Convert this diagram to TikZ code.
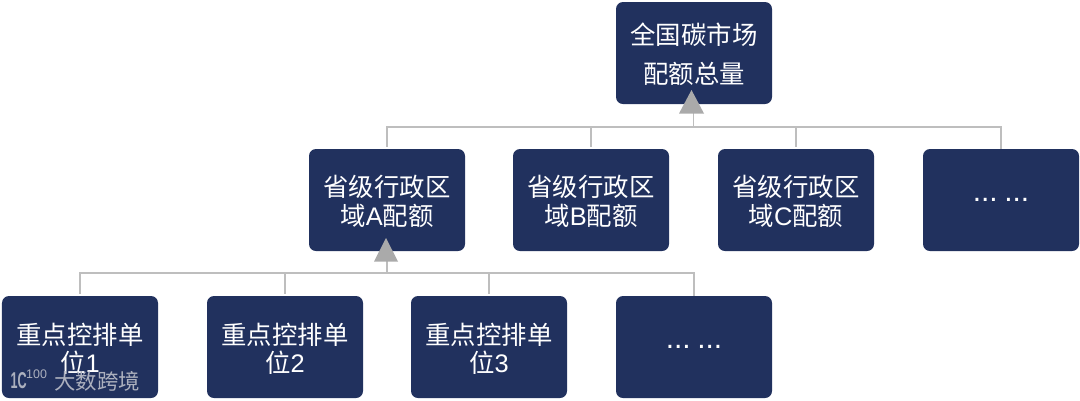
\documentclass[tikz,border=0pt]{standalone}
\usepackage{fontspec}
\usepackage{graphicx}
\setmainfont{Noto Sans CJK SC}
\newfontfamily\markfont{Liberation Sans}
\usetikzlibrary{positioning,calc}
\definecolor{boxblue}{RGB}{33,49,94}
\definecolor{linegray}{RGB}{190,190,190}
\definecolor{arrowgray}{RGB}{170,170,170}
\definecolor{markgray}{RGB}{172,176,190}
\newcommand{\ltn}[1]{{\markfont #1}}
\tikzset{
  quota/.style={draw=none, fill=boxblue, rounded corners=7bp, text=white, minimum width=156bp, minimum height=102bp,
    align=center, font=\fontsize{25.5}{28.5}\selectfont, inner sep=0pt, text width=140bp,
    execute at end node=\vspace{-3bp}},
  dots/.style={quota, font=\markfont\fontsize{30}{30}\selectfont, execute at end node={}},
  tree/.style={draw=linegray, line width=1.5bp},
  tip/.style={fill=arrowgray, draw=none},
  stamp/.style={text=markgray, inner sep=0pt}
}
\begin{document}
\begin{tikzpicture}[x=1bp,y=-1bp]
  \useasboundingbox (0,0) rectangle (1080,400);
  \node[quota, font=\fontsize{25.5}{39}\selectfont] (total) at (694,53) {全国碳市场\\配额总量};

  \node[quota] (provA) at (387,200) {省级行政区\\域\ltn{A}配额};
  \node[quota] (provB) at (591,200) {省级行政区\\域\ltn{B}配额};
  \node[quota] (provC) at (796,200) {省级行政区\\域\ltn{C}配额};
  \node[dots] (provD) at (1001,200) {...\hspace{6.5bp}...};

  \node[quota] (unit1) at (80,347) {重点控排单\\位\ltn{1}};
  \node[quota] (unit2) at (285,347) {重点控排单\\位\ltn{2}};
  \node[quota] (unit3) at (489,347) {重点控排单\\位\ltn{3}};
  \node[dots] (unit4) at (694,347) {...\hspace{6.5bp}...};

  % upper tree
  \coordinate (busA) at (387,127);
  \coordinate (busD) at (1001,127);
  \draw[tree, shorten <=2bp] (provA.north) -- (busA) -- (busD) -- (provD.north);
  \draw[tree, shorten <=2bp] (provB.north) -- (provB.north |- busA);
  \draw[tree, shorten <=2bp] (provC.north) -- (provC.north |- busA);
  \coordinate (tipT) at (691.5,90);
  \draw[tree] (693.5,113) -- (693.5,127);
  \fill[tip] (tipT) -- (679,113.5) -- (704,113.5) -- cycle;

  % lower tree
  \coordinate (bus1) at (80,273);
  \coordinate (bus4) at (694,273);
  \draw[tree, shorten <=2bp] (unit1.north) -- (bus1) -- (bus4) -- (unit4.north);
  \draw[tree, shorten <=2bp] (unit2.north) -- (unit2.north |- bus1);
  \draw[tree, shorten <=2bp] (unit3.north) -- (unit3.north |- bus1);
  \coordinate (tipA) at (386,238);
  \draw[tree] (387,261) -- (387,273);
  \fill[tip] (tipA) -- (374,261.5) -- (398,261.5) -- cycle;

  % watermark
  \node[stamp, font=\fontsize{21.5}{22}\selectfont] (stampname) at (97,381) {大数跨境};
  \node[stamp, font=\markfont\bfseries\fontsize{23}{23}\selectfont, anchor=east] (stamplogo) at (27,381) {\scalebox{0.55}[1]{1C}};
  \node[stamp, font=\markfont\fontsize{12.5}{13}\selectfont, anchor=west] (stampnum) at (26,374) {100};
\end{tikzpicture}
\end{document}
